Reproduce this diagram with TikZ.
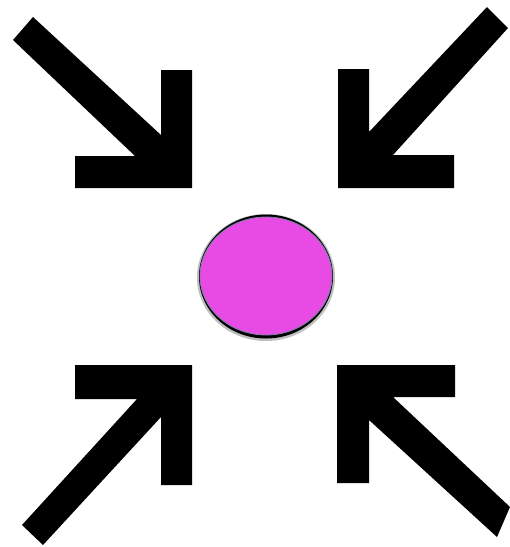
\documentclass[tikz,border=0pt]{standalone}
\usetikzlibrary{shapes.geometric}
\definecolor{dotpink}{RGB}{232,74,228}
\definecolor{dotrim}{RGB}{120,130,170}
\tikzset{
  arrowshape/.style={fill=black, draw=none},
}
\begin{document}
\begin{tikzpicture}[x=1pt,y=-1pt]
\useasboundingbox[fill=white] (0,0) rectangle (510,547);
% top-left arrow
\fill[arrowshape] (33,17) -- (13,40) -- (135,156) -- (75,156) -- (75,188) -- (192,188) -- (192,70) -- (161,70) -- (161,135) -- cycle;
% top-right arrow
\fill[arrowshape] (487,7) -- (508,28) -- (393,155) -- (454,155) -- (454,188) -- (338,188) -- (338,69) -- (369,69) -- (369,132) -- cycle;
% bottom-left arrow
\fill[arrowshape] (22,525) -- (43,545) -- (161,417) -- (161,485) -- (192,485) -- (192,365) -- (75,365) -- (75,399) -- (137,399) -- cycle;
% bottom-right arrow
\fill[arrowshape] (510,507) -- (497,537) -- (369,420) -- (369,483) -- (337,483) -- (337,365) -- (455,365) -- (455,397) -- (393,397) -- cycle;
% centre dot
\fill[black!25] (266,277.5) ellipse [x radius=69, y radius=63.5];
\fill[black] (266,276.5) ellipse [x radius=67, y radius=62];
\filldraw[fill=dotpink, draw=dotrim, line width=0.8pt] (266,276) ellipse [x radius=66, y radius=59];
\end{tikzpicture}
\end{document}
